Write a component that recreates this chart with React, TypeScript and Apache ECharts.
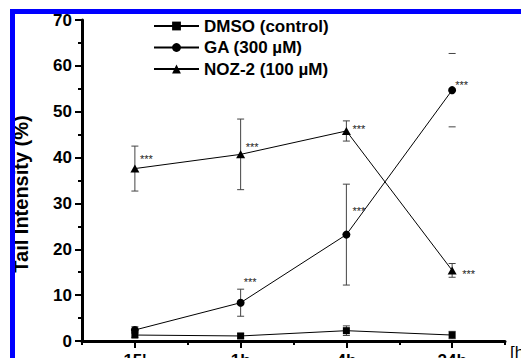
import React, { useEffect, useRef } from 'react';
import * as echarts from 'echarts';

const FONT = '"Liberation Sans", Arial, sans-serif';

const categories = ["15'", '1h', '4h', '24h'];
const seriesNames = ['DMSO (control)', 'GA (300 µM)', 'NOZ-2 (100 µM)'];

const dmsoMean = [1.3, 1.1, 2.25, 1.3];
const dmsoErr = [0.5, 0.5, 1.05, 0.8];

const gaMean = [2.4, 8.35, 23.2, 54.7];
const gaErr = [0.7, 2.95, 11.0, 8.0];
const gaStem = [1, 1, 1, 0];

const nozMean = [37.6, 40.7, 45.8, 15.4];
const nozErr = [4.9, 7.7, 2.2, 1.5];

const yTicks = { min: 0, max: 70, interval: 10 };

// significance marks: category index, value (glyph centre), horizontal offset in px
const starCat = [0, 1, 2, 3, 1, 2, 3];
const starVal = [40.1, 42.7, 46.7, 15.1, 13.3, 28.8, 56.2];
const starDx = [5, 5, 6, 10, 3, 6, 3];

function errData(mean: number[], err: number[], stem?: number[]) {
  return mean.map((m, i) => [i, m - err[i], m + err[i], stem ? stem[i] : 1]);
}

export default function App() {
  const ref = useRef<HTMLDivElement>(null);
  useEffect(() => {
    document.body.style.margin = '0';
    const chart = echarts.init(ref.current!, null, { renderer: 'svg' });

    const errRender = (params: any, api: any) => {
      const x = api.value(0);
      const lo = api.coord([x, api.value(1)]);
      const hi = api.coord([x, api.value(2)]);
      const stem = api.value(3);
      const hw = 3.5;
      const st = { stroke: '#444', lineWidth: 1, fill: null };
      const children: any[] = [];
      if (stem) children.push({ type: 'line', shape: { x1: lo[0], y1: lo[1], x2: hi[0], y2: hi[1] }, style: st });
      children.push({ type: 'line', shape: { x1: lo[0] - hw, y1: lo[1], x2: lo[0] + hw, y2: lo[1] }, style: st });
      children.push({ type: 'line', shape: { x1: hi[0] - hw, y1: hi[1], x2: hi[0] + hw, y2: hi[1] }, style: st });
      return { type: 'group', children };
    };

    const starRender = (params: any, api: any) => {
      const p = api.coord([api.value(0), api.value(1)]);
      return {
        type: 'text',
        x: p[0] + api.value(2),
        y: p[1] + 2,
        style: { text: '***', fontSize: 11, fontFamily: FONT, fill: '#222', stroke: null, align: 'left', verticalAlign: 'middle' },
      };
    };

    const lineSeries = (name: string, data: number[], symbol: string, size: any) => ({
      name,
      type: 'line',
      xAxisIndex: 0,
      data,
      symbol,
      symbolSize: size,
      showAllSymbol: true,
      z: 3,
      lineStyle: { color: '#000', width: 1 },
      itemStyle: { color: '#000' },
      emphasis: { disabled: true },
    });

    const errSeries = (data: any[]) => ({
      type: 'custom',
      xAxisIndex: 0,
      renderItem: errRender,
      data,
      encode: { x: 0, y: [1, 2] },
      itemStyle: { color: '#444' },
      z: 1,
      silent: true,
    });

    chart.setOption({
      animation: false,
      textStyle: { fontFamily: FONT },
      grid: { left: 82, right: 16, top: 20, bottom: 17, containLabel: false, outerBoundsMode: 'none' },
      legend: {
        orient: 'vertical',
        left: 148,
        top: 12.5,
        itemWidth: 45,
        itemHeight: 11,
        itemGap: 4.5,
        data: seriesNames,
        textStyle: { fontSize: 17, fontWeight: 'bold', color: '#000', fontFamily: FONT },
      },
      xAxis: [
        {
          type: 'category',
          data: categories,
          boundaryGap: true,
          position: 'bottom',
          axisLine: { lineStyle: { color: '#000', width: 3 } },
          axisTick: { show: true, length: 4, lineStyle: { color: '#000', width: 2 } },
          axisLabel: { fontSize: 17, fontWeight: 'bold', color: '#000', margin: 11, fontFamily: FONT },
          name: '[h]',
          nameLocation: 'end',
          nameGap: 5,
          nameTextStyle: { fontSize: 17, color: '#000', fontFamily: FONT, align: 'left', verticalAlign: 'top', padding: [3, 0, 0, 0] },
          splitLine: { show: false },
        },
        {
          type: 'category',
          data: categories,
          boundaryGap: true,
          position: 'bottom',
          axisLine: { show: false },
          axisTick: { show: true, alignWithLabel: true, length: 7, lineStyle: { color: '#000', width: 2 } },
          axisLabel: { show: false },
          splitLine: { show: false },
        },
      ],
      yAxis: {
        type: 'value',
        min: yTicks.min,
        max: yTicks.max,
        interval: yTicks.interval,
        axisLine: { show: true, lineStyle: { color: '#000', width: 3 } },
        axisTick: { show: true, length: 7, lineStyle: { color: '#000', width: 2 } },
        minorTick: { show: true, splitNumber: 2, length: 4, lineStyle: { color: '#000', width: 2 } },
        splitLine: { show: false },
        axisLabel: { fontSize: 17, fontWeight: 'bold', color: '#000', margin: 10, fontFamily: FONT },
      },
      series: [
        errSeries(errData(dmsoMean, dmsoErr)),
        errSeries(errData(gaMean, gaErr, gaStem)),
        errSeries(errData(nozMean, nozErr)),
        lineSeries(seriesNames[0], dmsoMean, 'rect', 7),
        lineSeries(seriesNames[1], gaMean, 'circle', 8),
        lineSeries(seriesNames[2], nozMean, 'triangle', [9, 8]),
        {
          type: 'custom',
          xAxisIndex: 0,
          renderItem: starRender,
          data: starCat.map((c, i) => [c, starVal[i], starDx[i]]),
          encode: { x: 0, y: 1 },
          itemStyle: { color: '#222' },
          z: 4,
          silent: true,
        },
      ],
      graphic: [
        {
          type: 'text',
          x: 20.5,
          y: 194,
          rotation: Math.PI / 2,
          style: {
            text: 'Tail Intensity (%)',
            fontSize: 20,
            fontWeight: 'bold',
            fontFamily: FONT,
            fill: '#000',
            align: 'center',
            verticalAlign: 'middle',
          },
          z: 50,
        },
        { type: 'rect', shape: { x: 10, y: 9, width: 511, height: 5 }, style: { fill: '#0000ff' }, z: 100 },
        { type: 'rect', shape: { x: 10, y: 9, width: 5, height: 349 }, style: { fill: '#0000ff' }, z: 100 },
      ],
    });
    return () => chart.dispose();
  }, []);
  return <div ref={ref} style={{ width: 521, height: 358 }} />;
}
